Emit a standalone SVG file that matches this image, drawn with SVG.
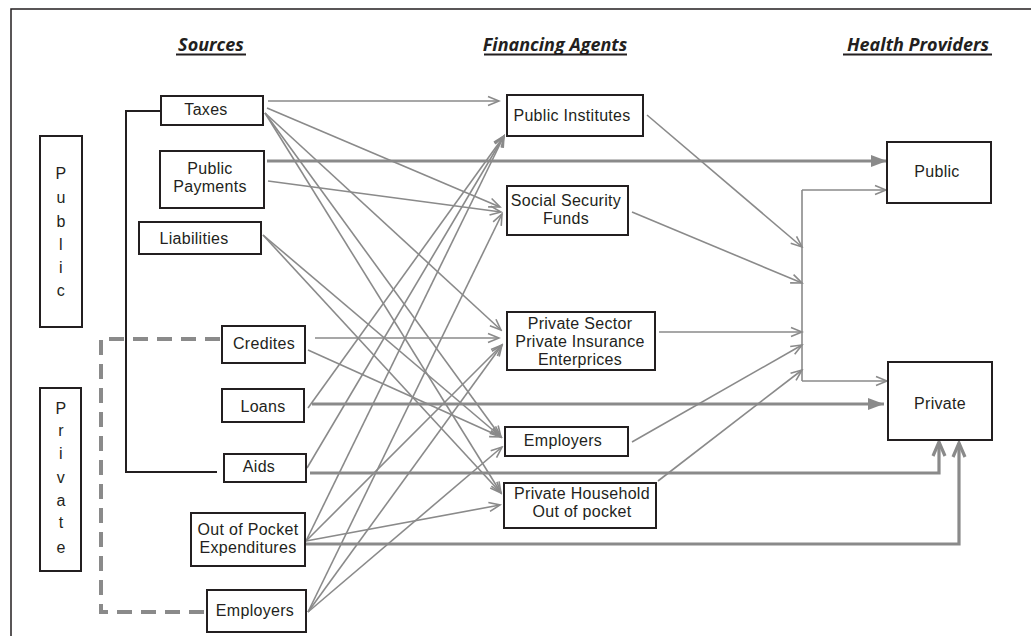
<svg xmlns="http://www.w3.org/2000/svg" width="1031" height="636" viewBox="0 0 1031 636">
<style>
.box{fill:#fff;stroke:#231f20;stroke-width:2}
.t{font-family:"Liberation Sans",Arial,sans-serif;font-size:16px;letter-spacing:0.3px;fill:#231f20;text-anchor:middle}
.h{font-family:"Open Sans","DejaVu Sans",sans-serif;font-size:18px;font-weight:700;font-style:italic;fill:#231f20;text-anchor:middle}
.ul{stroke:#231f20;stroke-width:2}
.thin{fill:none;stroke:#8a8a8a;stroke-width:1.6;marker-end:url(#open)}
.line{fill:none;stroke:#8a8a8a;stroke-width:1.6}
.thick{fill:none;stroke:#8a8a8a;stroke-width:3.2;marker-end:url(#tri)}
.thickup{fill:none;stroke:#8a8a8a;stroke-width:3.2;marker-end:url(#chev)}
.dash{fill:none;stroke:#8a8a8a;stroke-width:4;stroke-dasharray:15 9}
.brk{fill:none;stroke:#231f20;stroke-width:2}
</style>
<defs>
<marker id="open" markerWidth="14" markerHeight="12" refX="12" refY="6" orient="auto" markerUnits="userSpaceOnUse">
<path d="M1,1.5 L12,6 L1,10.5" fill="none" stroke="#8a8a8a" stroke-width="1.6"/>
</marker>
<marker id="tri" markerWidth="18" markerHeight="14" refX="16" refY="7" orient="auto" markerUnits="userSpaceOnUse">
<path d="M0,1 L16,7 L0,13 z" fill="#8a8a8a"/>
</marker>
<marker id="chev" markerWidth="18" markerHeight="16" refX="15" refY="8" orient="auto" markerUnits="userSpaceOnUse">
<path d="M1,2 L15,8 L1,14" fill="none" stroke="#8a8a8a" stroke-width="3.2"/>
</marker>
</defs>
<rect width="1031" height="636" fill="#fff"/>
<path d="M11,636 V9 H1031" fill="none" stroke="#231f20" stroke-width="1.5"/>

<g id="headers">
<text class="h" x="211" y="51">Sources</text>
<line class="ul" x1="176" y1="54.5" x2="246" y2="54.5"/>
<text class="h" x="555" y="51">Financing Agents</text>
<line class="ul" x1="484" y1="54.5" x2="627" y2="54.5"/>
<text class="h" x="918" y="51">Health Providers</text>
<line class="ul" x1="843" y1="54.5" x2="992" y2="54.5"/>
</g>

<g id="connectors">
<path class="brk" d="M161,111 H126 V472 H217"/>
<path class="dash" d="M220,339 H101 V612 H207"/>
<path class="thin" d="M268,101 L499,101"/>
<path class="thin" d="M267,108 L500,207"/>
<path class="thin" d="M265,113 L501,330"/>
<path class="thin" d="M265,113 L501,437"/>
<path class="thin" d="M265,113 L501,493"/>
<path class="thin" d="M268,181 L501,212"/>
<path class="thin" d="M263,235 L501,437"/>
<path class="thin" d="M263,235 L501,493"/>
<path class="thin" d="M315,338 L499,338"/>
<path class="thin" d="M308,350 L501,437"/>
<path class="thin" d="M308,408 L504,136"/>
<path class="thin" d="M307,468 L504,136"/>
<path class="thin" d="M306,541 L504,136"/>
<path class="thin" d="M306,541 L502,345"/>
<path class="thin" d="M306,541 L500,505"/>
<path class="thin" d="M308,612 L502,214"/>
<path class="thin" d="M308,612 L502,345"/>
<path class="thin" d="M308,612 L502,447"/>
<path class="thick" d="M267,161 H887"/>
<path class="thick" d="M312,404 H884"/>
<path class="thickup" d="M310,473 H939 V442"/>
<path class="thickup" d="M306,544 H959 V443"/>
<path class="thin" d="M647,115 L802,247"/>
<path class="thin" d="M632,212 L802,283"/>
<path class="thin" d="M659,332 L802,332"/>
<path class="thin" d="M632,442 L802,345"/>
<path class="thin" d="M658,481 L802,370"/>
<path class="line" d="M802,381 V190"/>
<path class="thin" d="M802,190 H886"/>
<path class="thin" d="M802,381 H887"/>
</g>

<g id="public-group"><rect class="box" x="40" y="136" width="42" height="191"/>
<text class="t" x="61" y="179">P</text><text class="t" x="61" y="203">u</text><text class="t" x="61" y="227">b</text><text class="t" x="61" y="250">l</text><text class="t" x="61" y="273">i</text><text class="t" x="61" y="296">c</text></g>
<g id="private-group"><rect class="box" x="40" y="388" width="41" height="183"/>
<text class="t" x="61" y="414">P</text><text class="t" x="61" y="436">r</text><text class="t" x="61" y="459">i</text><text class="t" x="61" y="483">v</text><text class="t" x="61" y="506">a</text><text class="t" x="61" y="528">t</text><text class="t" x="61" y="553">e</text></g>

<g id="src-taxes"><rect class="box" x="161" y="96" width="102" height="29"/><text class="t" x="206" y="115">Taxes</text></g>
<g id="src-public-payments"><rect class="box" x="160" y="151" width="104" height="57"/><text class="t" x="210" y="174">Public</text><text class="t" x="210" y="192">Payments</text></g>
<g id="src-liabilities"><rect class="box" x="139" y="222" width="122" height="32"/><text class="t" x="194" y="244">Liabilities</text></g>
<g id="src-credites"><rect class="box" x="222" y="326" width="83" height="37"/><text class="t" x="264" y="349">Credites</text></g>
<g id="src-loans"><rect class="box" x="222" y="389" width="82" height="33"/><text class="t" x="263" y="412">Loans</text></g>
<g id="src-aids"><rect class="box" x="224" y="454" width="82" height="28"/><text class="t" x="259" y="472">Aids</text></g>
<g id="src-oop"><rect class="box" x="191" y="513" width="114" height="53"/><text class="t" x="248" y="535">Out of Pocket</text><text class="t" x="248" y="553">Expenditures</text></g>
<g id="src-employers"><rect class="box" x="207" y="590" width="99" height="42"/><text class="t" x="255" y="616">Employers</text></g>

<g id="ag-public-institutes"><rect class="box" x="507" y="95" width="136" height="41"/><text class="t" x="572" y="121">Public Institutes</text></g>
<g id="ag-ssf"><rect class="box" x="507" y="186" width="121" height="49"/><text class="t" x="566" y="206">Social Security</text><text class="t" x="566" y="224">Funds</text></g>
<g id="ag-private-sector"><rect class="box" x="507" y="312" width="148" height="58"/><text class="t" x="580" y="329">Private Sector</text><text class="t" x="580" y="347">Private Insurance</text><text class="t" x="580" y="365">Enterprices</text></g>
<g id="ag-employers"><rect class="box" x="505" y="427" width="123" height="29"/><text class="t" x="563" y="446">Employers</text></g>
<g id="ag-household"><rect class="box" x="504" y="483" width="152" height="45"/><text class="t" x="582" y="499">Private Household</text><text class="t" x="582" y="517">Out of pocket</text></g>

<g id="hp-public"><rect class="box" x="887" y="142" width="104" height="61"/><text class="t" x="937" y="177">Public</text></g>
<g id="hp-private"><rect class="box" x="888" y="362" width="104" height="78"/><text class="t" x="940" y="409">Private</text></g>
</svg>
